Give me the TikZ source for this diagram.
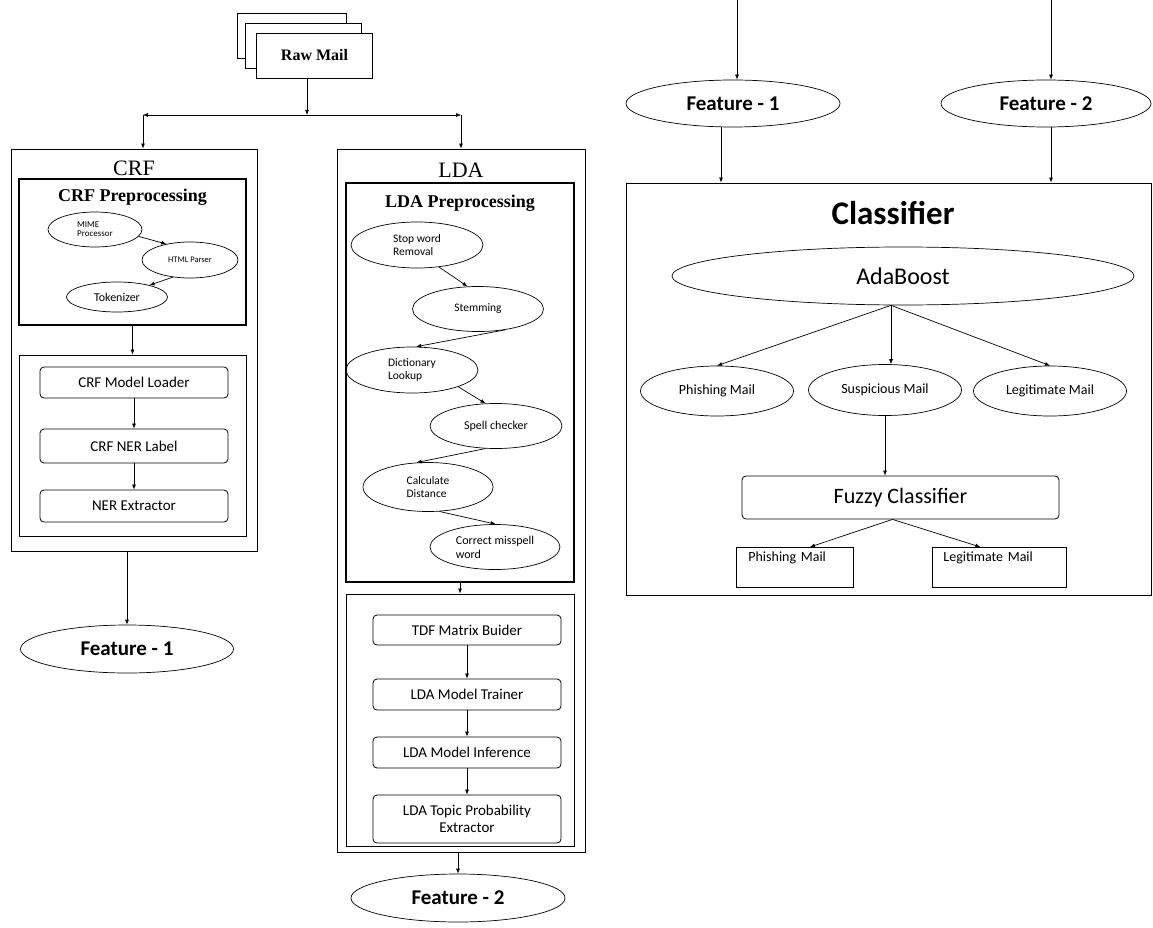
\documentclass[tikz,border=0pt]{standalone}
\usepackage{fontspec}
\setmainfont{Liberation Serif}
\newfontfamily\calfont{Carlito}
\usetikzlibrary{arrows.meta,positioning,shapes.geometric}

\tikzset{
  box/.style={draw,line width=0.9pt,inner sep=0pt},
  oval/.style={draw,ellipse,inner sep=0pt,line width=0.7pt,align=left,font=\calfont\fontsize{11.5}{13}\selectfont},
  stage/.style={draw,rounded corners=4pt,inner sep=0pt,line width=0.8pt,align=center,font=\calfont\fontsize{15}{17}\selectfont},
  feat/.style={oval,align=center,font=\calfont\bfseries\fontsize{21}{24}\selectfont},
  outmail/.style={oval,align=center,font=\calfont\fontsize{14}{16}\selectfont},
  arr/.style={-{Latex[length=5pt,width=4pt]},line width=0.7pt},
}

\begin{document}
\begin{tikzpicture}[x=1pt,y=-1pt]
\useasboundingbox (0,0) rectangle (1153,928);

% raw mail stack
\draw[box,fill=white] (237,13) rectangle (346,58);
\draw[box,fill=white] (245,23) rectangle (361,68);
\node[box,fill=white,minimum width=116,minimum height=45,font=\bfseries\fontsize{16}{18}\selectfont] (raw) at (314.5,55.5) {Raw Mail};
\coordinate (split) at (307,115);
\coordinate (lsplit) at (143,115);
\coordinate (rsplit) at (461,115);

% CRF branch
\node[box,minimum width=246,minimum height=402] (crf) at (134,350) {};
\node[font=\fontsize{22}{24}\selectfont] (crftitle) at (134,168) {CRF};
\node[box,line width=1.2pt,minimum width=227,minimum height=146] (crfpre) at (132.5,252) {};
\node[font=\bfseries\fontsize{18}{20}\selectfont] (crfpretitle) at (132.5,197) {CRF Preprocessing};
\node[oval,minimum width=94,minimum height=35,font=\calfont\fontsize{9}{9}\selectfont] (mime) at (95,229.5) {MIME\\Processor};
\node[oval,minimum width=96,minimum height=36,font=\calfont\fontsize{8.5}{9}\selectfont] (html) at (190,260) {HTML Parser};
\node[oval,minimum width=101,minimum height=30,font=\calfont\fontsize{12}{13}\selectfont] (tok) at (117,297) {Tokenizer};
\node[box,minimum width=227,minimum height=181] (crfmid) at (132.5,445.5) {};
\node[stage,minimum width=188,minimum height=31] (load) at (134,382.5) {CRF Model Loader};
\node[stage,minimum width=188,minimum height=34] (nerlab) at (134,446) {CRF NER Label};
\node[stage,minimum width=188,minimum height=32] (nerext) at (134,506) {NER Extractor};
\node[feat,minimum width=213,minimum height=48] (featA) at (127,649) {Feature - 1};

% LDA branch
\node[box,minimum width=248,minimum height=703] (lda) at (461,500.5) {};
\node[font=\fontsize{22}{24}\selectfont] (ldatitle) at (461,170) {LDA};
\node[box,line width=1.2pt,minimum width=228,minimum height=399] (ldapre) at (460,382.5) {};
\node[font=\bfseries\fontsize{18}{20}\selectfont] (ldapretitle) at (460,203) {LDA Preprocessing};
\node[oval,minimum width=132,minimum height=46] (stop) at (417,245) {Stop word\\Removal};
\node[oval,minimum width=131,minimum height=45] (stem) at (478,309) {Stemming};
\node[oval,minimum width=132,minimum height=46] (dict) at (412,370) {Dictionary\\Lookup};
\node[oval,minimum width=132,minimum height=45,font=\calfont\fontsize{12}{13}\selectfont] (spell) at (496,426) {Spell checker};
\node[oval,minimum width=130,minimum height=49] (dist) at (428,487) {Calculate\\Distance};
\node[oval,minimum width=130,minimum height=45,font=\calfont\fontsize{12}{14}\selectfont] (fix) at (495,547) {Correct misspell\\word};
\node[box,minimum width=228,minimum height=252] (ldamid) at (460,720) {};
\node[stage,minimum width=188,minimum height=30] (tdf) at (467,630) {TDF Matrix Buider};
\node[stage,minimum width=188,minimum height=31] (train) at (467,694.5) {LDA Model Trainer};
\node[stage,minimum width=188,minimum height=31] (infer) at (467,752.5) {LDA Model Inference};
\node[stage,minimum width=188,minimum height=48] (topic) at (467,819) {LDA Topic Probability\\Extractor};
\node[feat,minimum width=214,minimum height=48] (featB) at (458,898) {Feature - 2};

% classifier side
\coordinate (inA) at (737,0);
\coordinate (inB) at (1051,0);
\node[feat,minimum width=214,minimum height=47] (featC) at (733,103.5) {Feature - 1};
\node[feat,minimum width=210,minimum height=47] (featD) at (1046,103.5) {Feature - 2};
\node[box,minimum width=525,minimum height=412] (clf) at (888.5,389) {};
\node[font=\calfont\bfseries\fontsize{33}{36}\selectfont] (clftitle) at (893,213) {Classifier};
\node[oval,align=center,minimum width=462,minimum height=58,font=\calfont\fontsize{24}{26}\selectfont] (ada) at (903,276) {AdaBoost};
\coordinate (adaout) at ([xshift=-12pt]ada.south);
\node[outmail,minimum width=153,minimum height=50] (phish) at (717,391) {Phishing Mail};
\node[outmail,minimum width=153,minimum height=51] (susp) at (885,390) {Suspicious Mail};
\node[outmail,minimum width=153,minimum height=50] (legit) at (1050,391) {Legitimate Mail};
\node[stage,minimum width=317,minimum height=43,font=\calfont\fontsize{22}{24}\selectfont] (fuzzy) at (900.5,497.5) {Fuzzy Classifier};
\coordinate (fuzzyout) at ([xshift=-8pt]fuzzy.south);
\node[box,line width=0.8pt,anchor=north west,inner xsep=12pt,inner ysep=4pt,text width=93pt,text depth=22pt,align=left,font=\calfont\fontsize{14}{16}\selectfont] (phishout) at (736,547) {Phishing Mail};
\node[box,line width=0.8pt,anchor=north west,inner xsep=11pt,inner ysep=4pt,text width=112pt,text depth=22pt,align=left,font=\calfont\fontsize{14}{16}\selectfont] (legitout) at (932,547) {Legitimate Mail};

% connectors
\draw[arr] (split |- raw.south) -- (split);
\draw[arr,line width=0.5pt] (split) -- (lsplit);
\draw[arr,line width=0.5pt] (split) -- (rsplit);
\draw[arr] (lsplit) -- (lsplit |- crf.north);
\draw[arr] (rsplit) -- (rsplit |- lda.north);
\draw[arr] (mime.-9) -- (html.146);
\draw[arr] (html.-135) -- (tok.20);
\draw[arr] (crfpre.south) -- (crfmid.north);
\draw[arr] (load) -- (nerlab);
\draw[arr] (nerlab) -- (nerext);
\draw[arr] (featA.north |- crf.south) -- (featA.north);
\draw[arr] (stop.-45) -- (stem.115);
\draw[arr] (stem.-37) -- (dict.80);
\draw[arr] (dict.-20) -- (spell.115);
\draw[arr] (spell.-115) -- (dist.115);
\draw[arr] (dist.-65) -- (fix.88);
\draw[arr] (ldapre.south) -- (ldamid.north);
\draw[arr] (tdf) -- (train);
\draw[arr] (train) -- (infer);
\draw[arr] (infer) -- (topic);
\draw[arr] (featB.north |- lda.south) -- (featB.north);
\draw[arr] (inA) -- (inA |- featC.north);
\draw[arr] (inB) -- (inB |- featD.north);
\draw[arr] ([xshift=-12pt]featC.south) -- ([xshift=-12pt]featC.south |- clf.north);
\draw[arr] ([xshift=5pt]featD.south) -- ([xshift=5pt]featD.south |- clf.north);
\draw[arr] (adaout) -- (phish.north);
\draw[arr] (adaout) -- (adaout |- susp.north);
\draw[arr] (adaout) -- (legit.north);
\draw[arr] (susp.south) -- (susp.south |- fuzzy.north);
\draw[arr] (fuzzyout) -- ([xshift=15pt]phishout.north);
\draw[arr] (fuzzyout) -- ([xshift=-19pt]legitout.north);
\end{tikzpicture}
\end{document}
